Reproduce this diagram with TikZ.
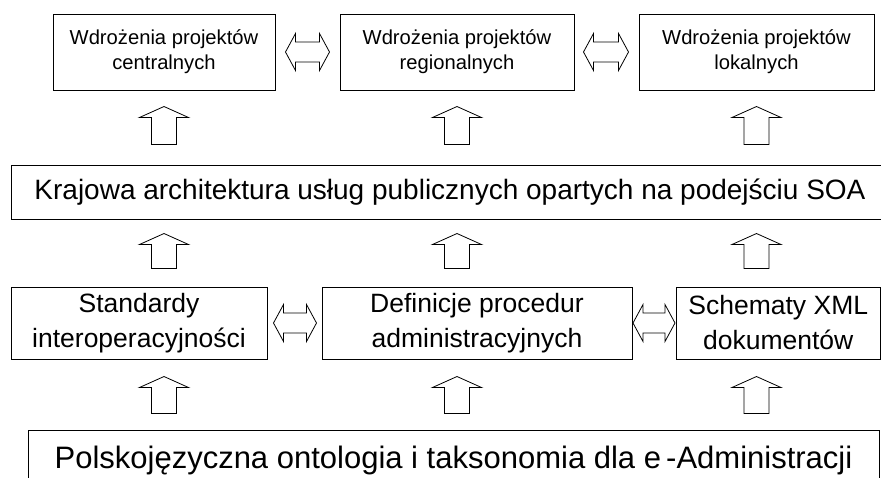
\documentclass[tikz,border=0pt]{standalone}
\usepackage{fontspec}
\setmainfont{Liberation Sans}
\usetikzlibrary{calc}

\begin{document}
\begin{tikzpicture}[x=1pt,y=-1pt,line width=1pt]

\tikzstyle{box}=[draw,rectangle,inner sep=0pt,align=center]
\tikzstyle{upper}=[box,minimum height=76pt,font=\fontsize{20.2}{25}\selectfont]
\tikzstyle{middle}=[box,minimum height=72pt,font=\fontsize{26.5}{35}\selectfont]
\tikzstyle{hollow}=[draw,line width=0.8pt,line join=miter]

% hollow block arrows: #1 = foot, #2 = tip
\def\upar#1#2{\draw[hollow] ($(#1)+(-12.5,0)$) -- ($(#2)+(-12.5,11)$) -- ($(#2)+(-24.5,11)$) -- (#2)
  -- ($(#2)+(24.5,11)$) -- ($(#2)+(12.5,11)$) -- ($(#1)+(12.5,0)$) -- cycle;}
\def\dbar#1#2{\draw[hollow] (#1) -- ($(#1)+(10,-18.5)$) -- ($(#1)+(10,-10)$) -- ($(#2)+(-10,-10)$)
  -- ($(#2)+(-10,-18.5)$) -- (#2) -- ($(#2)+(-10,18.5)$) -- ($(#2)+(-10,10)$)
  -- ($(#1)+(10,10)$) -- ($(#1)+(10,18.5)$) -- cycle;}

\useasboundingbox (0,0) rectangle (881,477);

% projects
\node[upper,minimum width=222pt] (wc) at (164,52) {Wdrożenia projektów\\centralnych};
\node[upper,minimum width=234pt] (wr) at (457,52) {Wdrożenia projektów\\regionalnych};
\node[upper,minimum width=235pt] (wl) at (756.5,52) {Wdrożenia projektów\\lokalnych};

\node[box,minimum width=878pt,minimum height=54pt,font=\fontsize{28}{30}\selectfont] (soa) at (450,192)
  {Krajowa architektura usług publicznych opartych na podejściu SOA};

% standards row
\node[middle,minimum width=256pt] (std) at (139,323) {Standardy\\interoperacyjności};
\node[middle,minimum width=310pt] (proc) at (477,323) {Definicje procedur\\administracyjnych};
\node[middle,minimum width=204.5pt] (xml) at (778.25,323) {Schematy XML\\dokumentów};

\node[box,minimum width=851pt,minimum height=60pt,font=\fontsize{31}{34}\selectfont] (onto) at (453.5,460)
  {Polskojęzyczna ontologia i taksonomia dla e\,-Administracji};

\foreach \t in {wc,wr,wl}{
  \coordinate (f1) at ($(\t.south |- soa.north)+(0,-20)$);
  \coordinate (t1) at ($(\t.south)+(0,16)$);
  \upar{f1}{t1}
  \coordinate (f2) at ($(\t.south |- std.north)+(0,-18)$);
  \coordinate (t2) at ($(\t.south |- soa.south)+(0,14)$);
  \upar{f2}{t2}
  \coordinate (f3) at ($(\t.south |- onto.north)+(0,-16)$);
  \coordinate (t3) at ($(\t.south |- std.south)+(0,17)$);
  \upar{f3}{t3}
}

\coordinate (l1) at ($(wc.east)+(10,0)$);
\coordinate (r1) at ($(wr.west)+(-10,0)$);
\dbar{l1}{r1}
\coordinate (l2) at ($(wr.east)+(9,0)$);
\coordinate (r2) at ($(wl.west)+(-10,0)$);
\dbar{l2}{r2}
\coordinate (l3) at ($(std.east)+(6,0)$);
\coordinate (r3) at ($(proc.west)+(-5,0)$);
\dbar{l3}{r3}
\coordinate (l4) at ($(proc.east)+(0.5,0)$);
\coordinate (r4) at ($(xml.west)+(-0.5,0)$);
\dbar{l4}{r4}

\end{tikzpicture}
\end{document}
